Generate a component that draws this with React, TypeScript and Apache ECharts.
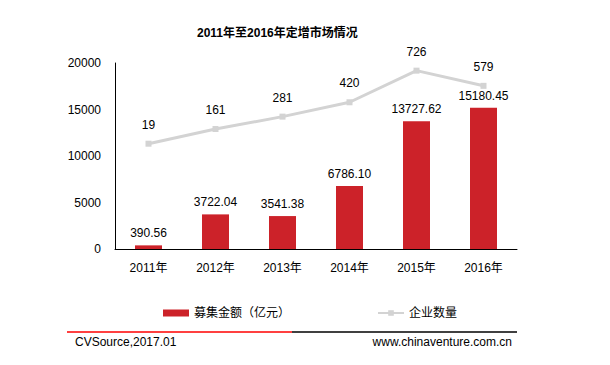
import React, { useEffect, useRef } from "react";
import * as echarts from "echarts";

const categories = ["2011年", "2012年", "2013年", "2014年", "2015年", "2016年"];
const amounts = [390.56, 3722.04, 3541.38, 6786.1, 13727.62, 15180.45];
const companies = [19, 161, 281, 420, 726, 579];
const leftTicks = [0, 5000, 10000, 15000, 20000];

const FONT = "'Liberation Sans', Arial, 'Noto Sans CJK SC', sans-serif";

export default function App() {
  const ref = useRef<HTMLDivElement>(null);
  useEffect(() => {
    document.body.style.margin = "0";
    const chart = echarts.init(ref.current!, null, { renderer: "svg" });
    const legendText = { fontSize: 12, color: "#000", fontFamily: FONT };
    chart.setOption({
      animation: false,
      backgroundColor: "#ffffff",
      textStyle: { fontFamily: FONT },
      title: {
        text: "2011年至2016年定增市场情况",
        left: 192,
        top: 22,
        textStyle: { fontSize: 12, fontWeight: "bold", color: "#000", fontFamily: FONT },
      },
      legend: [
        {
          top: 302,
          left: 158,
          itemWidth: 26,
          itemHeight: 7,
          itemGap: 4,
          textStyle: legendText,
          data: [{ name: "募集金额（亿元）", icon: "rect" }],
        },
        {
          top: 302,
          left: 372,
          itemWidth: 26,
          itemHeight: 7,
          textStyle: legendText,
          data: [{ name: "企业数量" }],
        },
      ],
      grid: { left: 115, top: 63, width: 402, height: 186, containLabel: false },
      xAxis: {
        type: "category",
        data: categories,
        axisLine: { lineStyle: { color: "#000", width: 1 } },
        axisTick: { show: false },
        axisLabel: { color: "#000", fontSize: 12, margin: 13, fontFamily: FONT },
      },
      yAxis: [
        {
          type: "value",
          min: leftTicks[0],
          max: leftTicks[leftTicks.length - 1],
          interval: leftTicks[1] - leftTicks[0],
          axisLine: { show: true, lineStyle: { color: "#000", width: 1 } },
          axisTick: { show: false },
          splitLine: { show: false },
          axisLabel: {
            color: "#000",
            fontSize: 12,
            margin: 14,
            fontFamily: FONT,
            formatter: (v: number) => String(v),
          },
        },
        {
          type: "value",
          min: -1000,
          max: 800,
          show: false,
          splitLine: { show: false },
        },
      ],
      series: [
        {
          name: "募集金额（亿元）",
          type: "bar",
          data: amounts,
          barWidth: 27,
          itemStyle: { color: "#cc2229" },
          label: {
            show: true,
            position: "top",
            distance: 6,
            color: "#000",
            fontSize: 12,
            fontFamily: FONT,
            formatter: (p: any) => Number(p.value).toFixed(2),
          },
        },
        {
          name: "企业数量",
          type: "line",
          yAxisIndex: 1,
          data: companies,
          symbol: "rect",
          symbolSize: 6,
          lineStyle: { color: "#d3d3d3", width: 3 },
          itemStyle: { color: "#d3d3d3" },
          label: {
            show: true,
            position: "top",
            distance: 10,
            color: "#000",
            fontSize: 12,
            fontFamily: FONT,
          },
        },
      ],
      graphic: [
        { type: "line", shape: { x1: 67, y1: 332, x2: 292, y2: 332 }, style: { stroke: "#ff0000", lineWidth: 1.5 } },
        { type: "line", shape: { x1: 292, y1: 332, x2: 517, y2: 332 }, style: { stroke: "#000", lineWidth: 1.5 } },
        { type: "text", x: 75, y: 336, style: { text: "CVSource,2017.01", fill: "#000", fontSize: 12, fontFamily: FONT } },
        { type: "text", x: 512, y: 336, style: { text: "www.chinaventure.com.cn", fill: "#000", fontSize: 12, fontFamily: FONT, align: "right" } },
      ],
    });
    return () => chart.dispose();
  }, []);
  return <div ref={ref} style={{ width: 610, height: 365, position: "absolute", left: 0, top: 0 }} />;
}
